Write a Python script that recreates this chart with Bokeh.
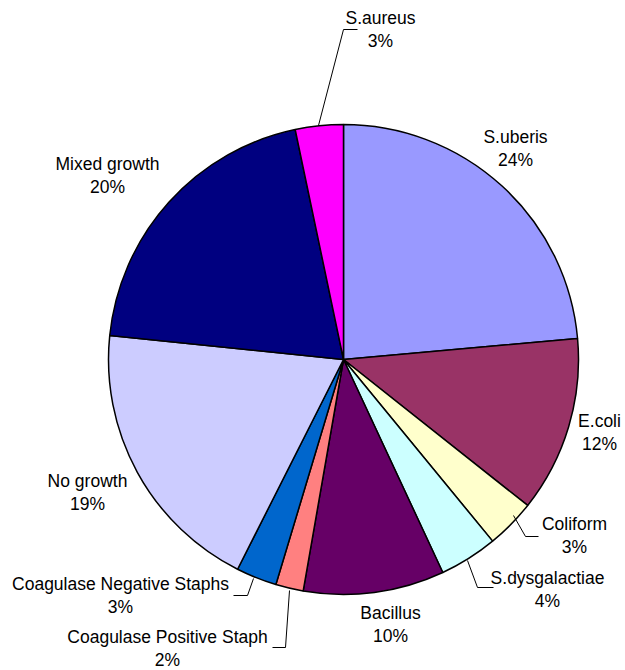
import math
from bokeh.plotting import figure
from bokeh.models import Range1d, ColumnDataSource
from bokeh.core.properties import value
from bokeh.embed import file_html
from bokeh.resources import INLINE

# ---- data ----
categories = ["S.uberis", "E.coli", "Coliform", "S.dysgalactiae", "Bacillus",
              "Coagulase Positive Staph", "Coagulase Negative Staphs",
              "No growth", "Mixed growth", "S.aureus"]
shares = [23.6, 12.1, 3.4, 4.0, 9.7, 1.9, 2.8, 19.2, 20.1, 3.3]
pct_labels = ["24%", "12%", "3%", "4%", "10%", "2%", "3%", "19%", "20%", "3%"]

# ---- styles / layout ----
colors = ["#9999FF", "#993366", "#FFFFCC", "#CCFFFF", "#660066",
          "#FF8080", "#0066CC", "#CCCCFF", "#000080", "#FF00FF"]
W, H = 625, 670
CX, CY, R = 343, 359, 235  # pixel centre (top-left origin) and radius

# label centre (px, top-left origin) of the name line
label_pos = {
    "S.uberis": (515, 136),
    "E.coli": (599, 420),
    "Coliform": (574, 523),
    "S.dysgalactiae": (547, 577),
    "Bacillus": (390, 612),
    "Coagulase Positive Staph": (167, 636),
    "Coagulase Negative Staphs": (120, 583),
    "No growth": (87, 480),
    "Mixed growth": (107, 163),
    "S.aureus": (380, 17),
}
leaders = {
    "S.aureus": [(357, 29), (343, 29), (318, 125)],
    "Coliform": [(513, 515), (525, 536), (538, 536)],
    "S.dysgalactiae": [(467, 560), (477, 587), (493, 587)],
    "Coagulase Negative Staphs": [(253, 578), (247, 595), (233, 595)],
    "Coagulase Positive Staph": [(289, 590), (285, 647), (272, 647)],
}
LINE_GAP = 23

def fy(y):
    return H - y

total = sum(shares)
starts, ends = [], []
cum = 0.0
for s in shares:
    a0 = math.pi / 2 - 2 * math.pi * cum / total
    cum += s
    a1 = math.pi / 2 - 2 * math.pi * cum / total
    starts.append(a0)
    ends.append(a1)

p = figure(width=W, height=H, x_range=Range1d(0, W), y_range=Range1d(0, H),
           output_backend="svg", toolbar_location=None, min_border=0)
p.axis.visible = False
p.grid.visible = False
p.outline_line_color = None
p.background_fill_color = "white"
p.border_fill_color = "white"

src = ColumnDataSource(dict(cat=categories, start=starts, end=ends, color=colors))
p.wedge(x=CX, y=fy(CY), radius=R, start_angle="start", end_angle="end",
        direction="clock", fill_color="color", line_color="black",
        line_width=1.5, source=src)

for name, pts in leaders.items():
    p.line([q[0] for q in pts], [fy(q[1]) for q in pts], line_color="black", line_width=1)

tx, ty, tt = [], [], []
for name, pct in zip(categories, pct_labels):
    x, y = label_pos[name]
    tx += [x, x]
    ty += [fy(y), fy(y + LINE_GAP)]
    tt += [name, pct]
p.text(x=tx, y=ty, text=tt, text_align="center", text_baseline="middle",
       text_font=value("Liberation Sans"), text_font_size="17.5px", text_color="black")

open("out.html", "w").write(file_html(p, INLINE))
